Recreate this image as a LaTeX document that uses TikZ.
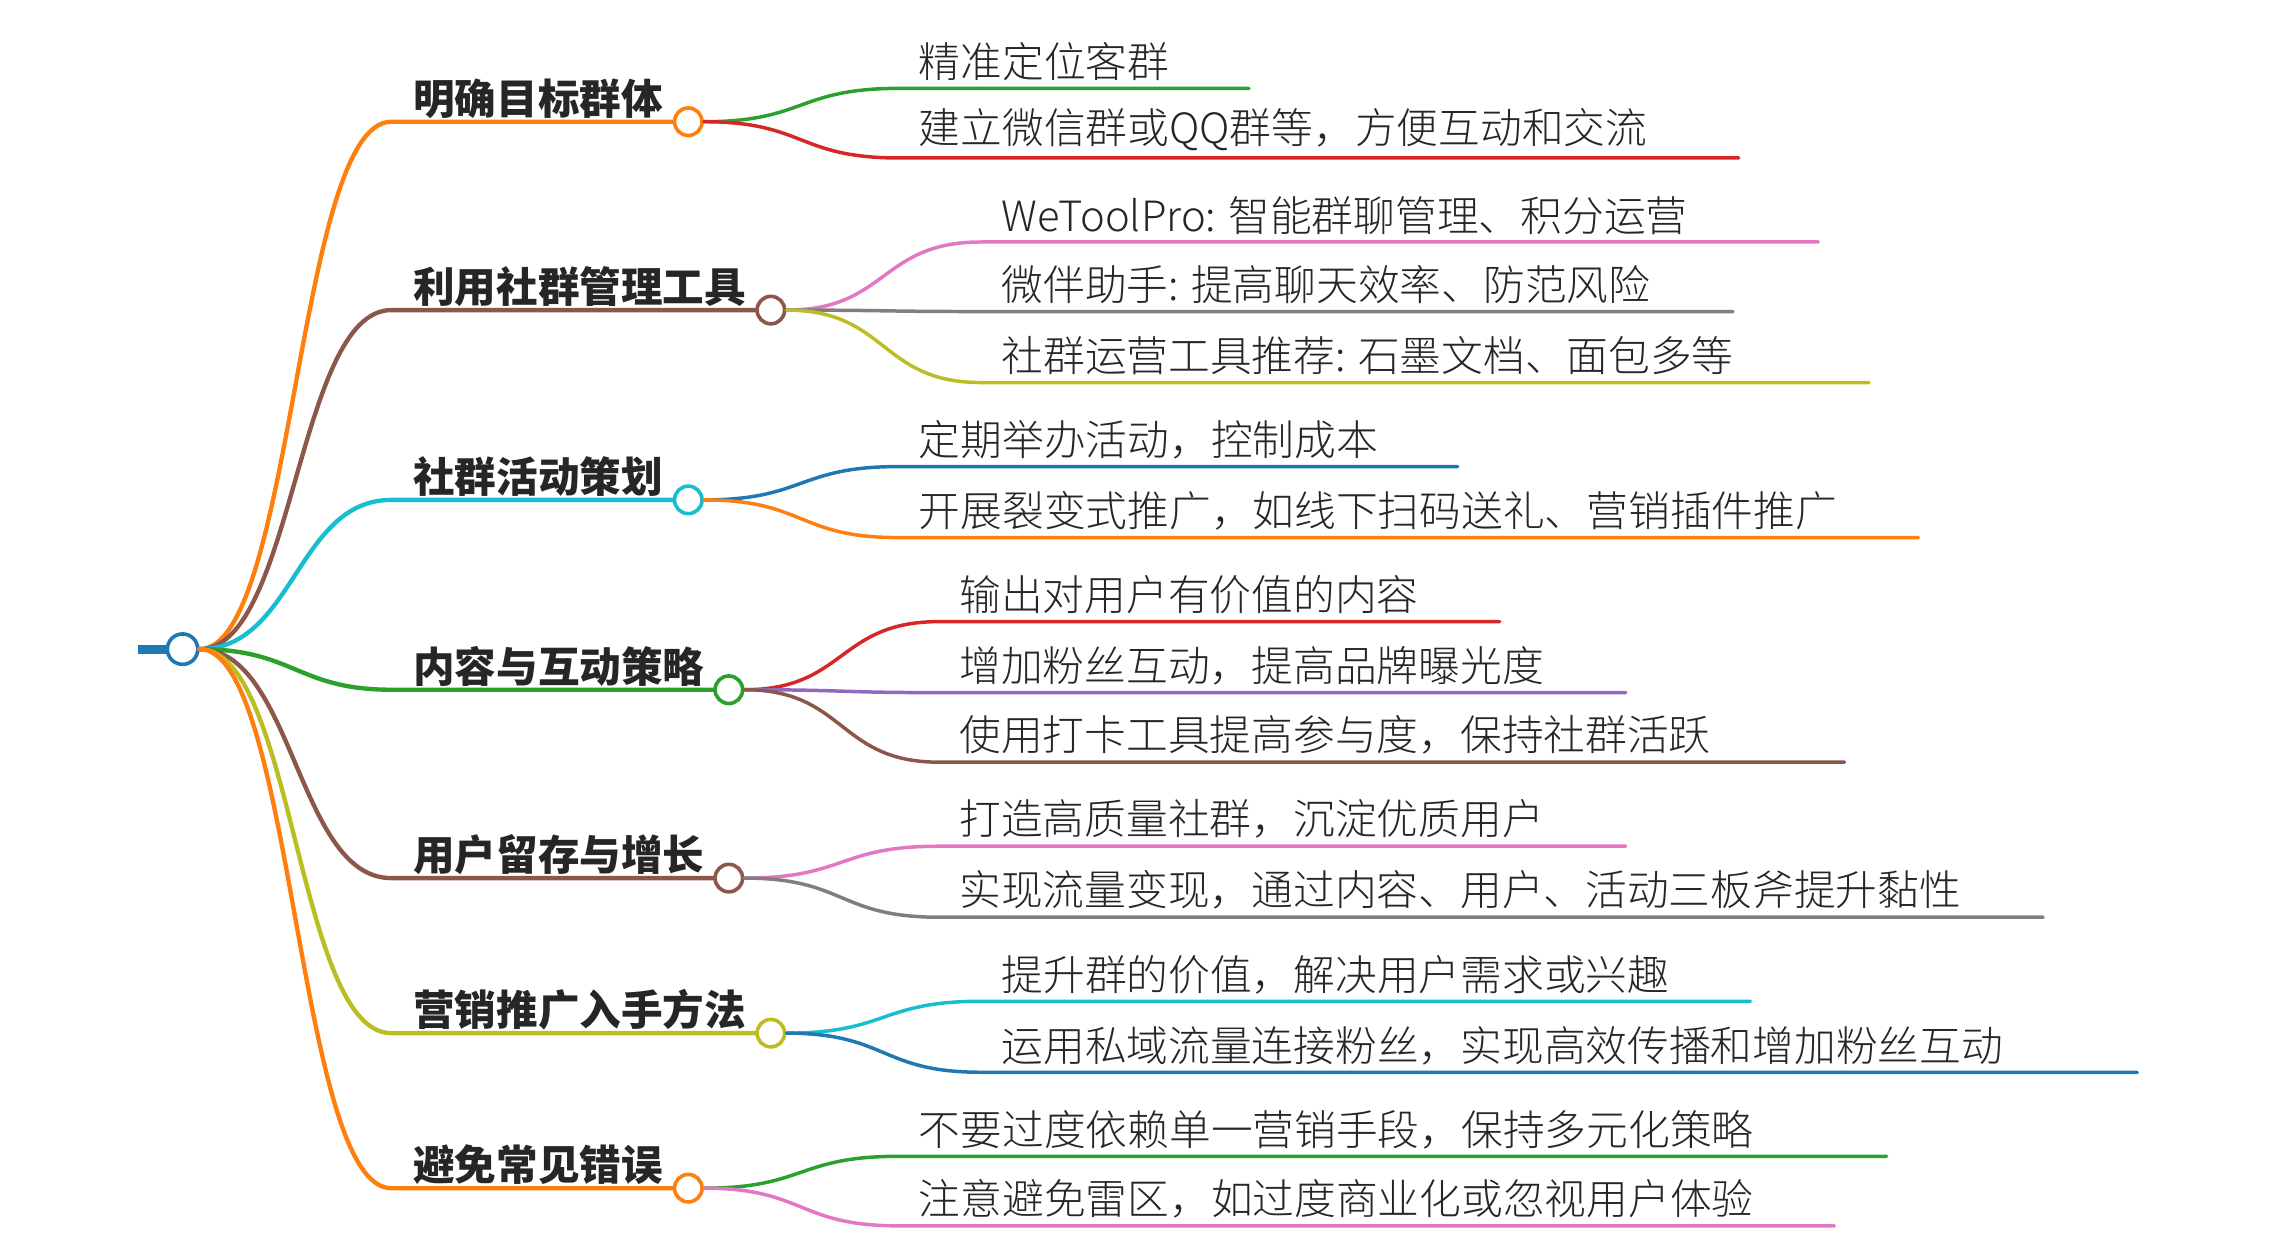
\documentclass[tikz,border=0pt]{standalone}
\usepackage{fontspec}
\setmainfont{Noto Sans CJK SC}
\newfontfamily\leaffont{Noto Sans CJK SC Light}
\usetikzlibrary{positioning}
\definecolor{cOrange}{HTML}{FF7F0E}
\definecolor{cBrown}{HTML}{8C564B}
\definecolor{cCyan}{HTML}{17BECF}
\definecolor{cGreen}{HTML}{2CA02C}
\definecolor{cOlive}{HTML}{BCBD22}
\definecolor{cRed}{HTML}{D62728}
\definecolor{cPink}{HTML}{E377C2}
\definecolor{cGray}{HTML}{7F7F7F}
\definecolor{cBlue}{HTML}{1F77B4}
\definecolor{cPurple}{HTML}{9467BD}
\tikzset{x=1pt, y=-1pt, % one unit = one pixel of the small picture, y runs down
dot/.style={circle, draw, fill=white, line width=2.5pt, inner sep=0pt, minimum size=19pt}, % the small rings
topic/.style={anchor=south west, inner xsep=15pt, inner ysep=2pt, text=black!85, font=\fontsize{28.7}{30}\selectfont\bfseries}, % first level texts
leaf/.style={anchor=south west, inner xsep=14pt, inner ysep=5pt, text=black!85, font=\fontsize{28.8}{30}\selectfont\leaffont}, % second level texts
link/.style={line width=3pt, line cap=round}, % root to topic
sublink/.style={line width=2.4pt, line cap=round}, % topic to leaf
}

\begin{document}
\begin{tikzpicture}
    \useasboundingbox (0,0) rectangle (1568,868);
    \node[dot, draw=cBlue, minimum size=21pt] (root) at (126,448) {};
    \coordinate (stub) at (95,448);
    \draw[line width=6pt, cBlue] (stub) -- (root.west);

    % first level
    \node[topic] (l1) at (270,84) {明确目标群体};
    \node[topic] (l2) at (270,214) {利用社群管理工具};
    \node[topic] (l3) at (270,345) {社群活动策划};
    \node[topic] (l4) at (270,476) {内容与互动策略};
    \node[topic] (l5) at (270,606) {用户留存与增长};
    \node[topic] (l6) at (270,713) {营销推广入手方法};
    \node[topic] (l7) at (270,820) {避免常见错误};
    \node[dot, draw=cOrange] (t1) at (475,84) {};
    \node[dot, draw=cBrown] (t2) at (532,214) {};
    \node[dot, draw=cCyan] (t3) at (475,345) {};
    \node[dot, draw=cGreen] (t4) at (503,476) {};
    \node[dot, draw=cBrown] (t5) at (503,606) {};
    \node[dot, draw=cOlive] (t6) at (532,713) {};
    \node[dot, draw=cOrange] (t7) at (475,820) {};
    \draw[link, cOrange] (root.east) .. controls +(65,0) and +(-65,0) .. (l1.south west) -- (t1.west);
    \draw[link, cBrown] (root.east) .. controls +(65,0) and +(-65,0) .. (l2.south west) -- (t2.west);
    \draw[link, cCyan] (root.east) .. controls +(65,0) and +(-65,0) .. (l3.south west) -- (t3.west);
    \draw[link, cGreen] (root.east) .. controls +(65,0) and +(-65,0) .. (l4.south west) -- (t4.west);
    \draw[link, cBrown] (root.east) .. controls +(65,0) and +(-65,0) .. (l5.south west) -- (t5.west);
    \draw[link, cOlive] (root.east) .. controls +(65,0) and +(-65,0) .. (l6.south west) -- (t6.west);
    \draw[link, cOrange] (root.east) .. controls +(65,0) and +(-65,0) .. (l7.south west) -- (t7.west);

    % second level
    \node[leaf] (s11) at (620,61) {精准定位客群};
    \node[leaf] (s12) at (620,109) {建立微信群或QQ群等，方便互动和交流};
    \node[leaf] (s21) at (677,167) {WeToolPro: 智能群聊管理、积分运营};
    \node[leaf] (s22) at (677,215) {微伴助手: 提高聊天效率、防范风险};
    \node[leaf] (s23) at (677,264) {社群运营工具推荐: 石墨文档、面包多等};
    \node[leaf] (s31) at (620,322) {定期举办活动，控制成本};
    \node[leaf] (s32) at (620,371) {开展裂变式推广，如线下扫码送礼、营销插件推广};
    \node[leaf] (s41) at (648,429) {输出对用户有价值的内容};
    \node[leaf] (s42) at (648,478) {增加粉丝互动，提高品牌曝光度};
    \node[leaf] (s43) at (648,526) {使用打卡工具提高参与度，保持社群活跃};
    \node[leaf] (s51) at (648,584) {打造高质量社群，沉淀优质用户};
    \node[leaf] (s52) at (648,633) {实现流量变现，通过内容、用户、活动三板斧提升黏性};
    \node[leaf] (s61) at (677,691) {提升群的价值，解决用户需求或兴趣};
    \node[leaf] (s62) at (677,740) {运用私域流量连接粉丝，实现高效传播和增加粉丝互动};
    \node[leaf] (s71) at (620,798) {不要过度依赖单一营销手段，保持多元化策略};
    \node[leaf] (s72) at (620,846) {注意避免雷区，如过度商业化或忽视用户体验};
    % where each underline stops
    \coordinate (e11) at (862,61);
    \coordinate (e12) at (1200,109);
    \coordinate (e21) at (1255,167);
    \coordinate (e22) at (1196,215);
    \coordinate (e23) at (1290,264);
    \coordinate (e31) at (1006,322);
    \coordinate (e32) at (1324,371);
    \coordinate (e41) at (1035,429);
    \coordinate (e42) at (1122,478);
    \coordinate (e43) at (1273,526);
    \coordinate (e51) at (1122,584);
    \coordinate (e52) at (1410,633);
    \coordinate (e61) at (1208,691);
    \coordinate (e62) at (1475,740);
    \coordinate (e71) at (1302,798);
    \coordinate (e72) at (1266,846);
    \draw[sublink, cGreen] (t1.east) .. controls +(70,0) and +(-70,0) .. (s11.south west) -- (e11);
    \draw[sublink, cRed] (t1.east) .. controls +(70,0) and +(-70,0) .. (s12.south west) -- (e12);
    \draw[sublink, cPink] (t2.east) .. controls +(70,0) and +(-70,0) .. (s21.south west) -- (e21);
    \draw[sublink, cGray] (t2.east) .. controls +(70,0) and +(-70,0) .. (s22.south west) -- (e22);
    \draw[sublink, cOlive] (t2.east) .. controls +(70,0) and +(-70,0) .. (s23.south west) -- (e23);
    \draw[sublink, cBlue] (t3.east) .. controls +(70,0) and +(-70,0) .. (s31.south west) -- (e31);
    \draw[sublink, cOrange] (t3.east) .. controls +(70,0) and +(-70,0) .. (s32.south west) -- (e32);
    \draw[sublink, cRed] (t4.east) .. controls +(70,0) and +(-70,0) .. (s41.south west) -- (e41);
    \draw[sublink, cPurple] (t4.east) .. controls +(70,0) and +(-70,0) .. (s42.south west) -- (e42);
    \draw[sublink, cBrown] (t4.east) .. controls +(70,0) and +(-70,0) .. (s43.south west) -- (e43);
    \draw[sublink, cPink] (t5.east) .. controls +(70,0) and +(-70,0) .. (s51.south west) -- (e51);
    \draw[sublink, cGray] (t5.east) .. controls +(70,0) and +(-70,0) .. (s52.south west) -- (e52);
    \draw[sublink, cCyan] (t6.east) .. controls +(70,0) and +(-70,0) .. (s61.south west) -- (e61);
    \draw[sublink, cBlue] (t6.east) .. controls +(70,0) and +(-70,0) .. (s62.south west) -- (e62);
    \draw[sublink, cGreen] (t7.east) .. controls +(70,0) and +(-70,0) .. (s71.south west) -- (e71);
    \draw[sublink, cPink] (t7.east) .. controls +(70,0) and +(-70,0) .. (s72.south west) -- (e72);
  \end{tikzpicture}
\end{document}
